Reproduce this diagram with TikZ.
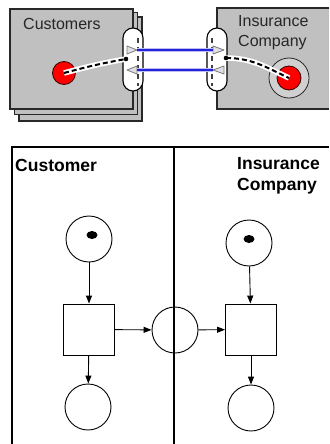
\documentclass[tikz,border=0pt]{standalone}
\usepackage{fontspec}
\setmainfont{Liberation Sans}
\usepackage{xcolor}
\usepackage{tikz}
\usetikzlibrary{shapes.geometric}
\usetikzlibrary{arrows.meta}
\usetikzlibrary{positioning}

\definecolor{boxgray}{RGB}{192,192,192}
\definecolor{edgegray}{RGB}{40,40,40}
\definecolor{linkblue}{RGB}{35,35,220}
\definecolor{trigray}{RGB}{120,120,120}

\begin{document}
\begin{tikzpicture}[
  x=1pt, y=-1pt,
  procbox/.style={rectangle, draw=edgegray, fill=boxgray, line width=1.1pt, inner sep=0pt},
  portpill/.style={rectangle, rounded corners=10pt, draw=black, fill=white, line width=1.1pt,
                   minimum width=20pt, minimum height=63pt, inner sep=0pt},
  redplace/.style={circle, draw=black!80!red, fill=red, line width=0.8pt, minimum size=23pt, inner sep=0pt},
  toplabel/.style={inner sep=0pt, anchor=base west, text=black!85, font=\fontsize{16}{19}\selectfont},
  lanelabel/.style={inner sep=0pt, anchor=base west, font=\fontsize{17.5}{21}\selectfont\bfseries},
  pnplace/.style={circle, draw, line width=0.9pt, minimum size=46pt, inner sep=0pt},
  pntrans/.style={rectangle, draw, line width=0.9pt, minimum size=51pt, inner sep=0pt},
  tokendot/.style={ellipse, fill=black, minimum width=11pt, minimum height=8pt, inner sep=0pt},
  pnarc/.style={-{Triangle[length=8pt, width=6pt]}, line width=0.9pt},
  wire/.style={line width=2pt, dash pattern=on 5pt off 3pt,
               preaction={draw=white, line width=5.5pt, solid}},
  bluelink/.style={draw=linkblue, line width=1.6pt,
                   preaction={draw=linkblue!30, line width=3.8pt}},
  porttri/.style={draw=trigray, fill=black!12, line width=0.8pt, line join=round},
  gatedash/.style={draw=black!75, line width=1.4pt, dash pattern=on 5pt off 4pt},
  lane/.style={line width=1.2pt},
]
\useasboundingbox (0,0) rectangle (329,444);

% Top: component view
\node[procbox, minimum width=123pt, minimum height=104pt] (page3) at (80.5,69) {};
\node[procbox, minimum width=123pt, minimum height=102pt] (page2) at (76,63.5) {};
\node[procbox, minimum width=123pt, minimum height=100pt] (custBox) at (71.5,59) {};
\fill[boxgray] (217,8) rectangle (329,109);
\draw[edgegray, line width=1.1pt] (329,8) -- (217,8) -- (217,109) -- (329,109);

\node[toplabel] (custTxt) at (23,30) {Customers};
\node[toplabel] (insTxt) at (238,27) {Insurance};
\node[toplabel] (compTxt) at (238,47) {Company};

% Ports
\node[portpill] (portC) at (133,59.5) {};
\node[portpill] (portI) at (217,59.5) {};
\draw[gatedash] (138,38) -- (138,86);
\draw[gatedash] (212,38) -- (212,86);

\draw[porttri] (127,46) -- (137,50) -- (127,54) -- cycle;
\draw[porttri] (137,66) -- (127,70) -- (137,74) -- cycle;
\draw[porttri] (213,46) -- (224,50) -- (213,54) -- cycle;
\draw[porttri] (224,66) -- (213,70) -- (224,74) -- cycle;

\coordinate (outC) at (137,50);
\coordinate (inI)  at (213,50);
\coordinate (inC)  at (137,70);
\coordinate (outI) at (213,70);
\draw[bluelink] (outC) -- (inI);
\draw[bluelink] (inC) -- (outI);

% Places inside the components
\node[circle, draw=edgegray, fill=boxgray!75, line width=0.8pt, minimum size=40pt] (ringI) at (289,78) {};
\node[redplace] (redC) at (64,73) {};
\node[redplace, minimum size=24pt] (redI) at (289,78) {};

\coordinate (dotC) at (126,59);
\coordinate (dotI) at (226,58);
\draw[wire] (redC.center) to[out=15, in=190] (dotC);
\draw[wire] (dotI) to[out=0, in=155] (redI.center);
\fill (dotC) circle (2.3pt);
\fill (dotI) circle (2.3pt);

% Bottom: Petri net with swimlanes
\draw[lane] (12,444) -- (12,147) -- (329,147);
\draw[lane] (174,147) -- (174,444);

\node[lanelabel] (custLane) at (15,171) {Customer};
\node[lanelabel] (insLane) at (237,169) {Insurance};
\node[lanelabel] (compLane) at (237,190) {Company};

\node[pnplace] (cStart) at (89,239) {};
\node[tokendot] (cTok) at (92,235) {};
\node[pntrans] (cTrans) at (89,329.5) {};
\node[pnplace] (cEnd) at (88,407) {};

\node[pnplace] (msg) at (175,330) {};

\node[pnplace] (iStart) at (249,243) {};
\node[tokendot] (iTok) at (249,239) {};
\node[pntrans] (iTrans) at (251,329.5) {};
\node[pnplace] (iEnd) at (251,408) {};

\draw[pnarc] (cStart) -- (cTrans);
\draw[pnarc] (cTrans) -- (cEnd);
\draw[pnarc] (cTrans) -- (msg);
\draw[pnarc] (msg) -- (iTrans);
\draw[pnarc] (iStart) -- (iTrans);
\draw[pnarc] (iTrans) -- (iEnd);

\end{tikzpicture}
\end{document}
